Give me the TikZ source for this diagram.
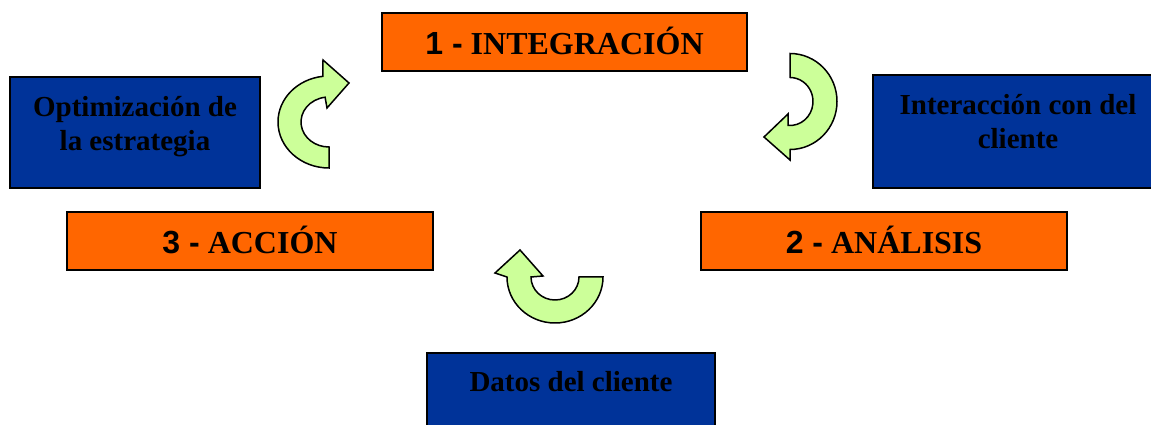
\documentclass[tikz,border=0pt]{standalone}
\usepackage{fontspec}
\setmainfont{Liberation Serif}
\newfontfamily\numfont{Liberation Sans}
\usetikzlibrary{calc}
\definecolor{boxorange}{HTML}{FF6600}
\definecolor{boxblue}{HTML}{003399}
\definecolor{arrowgreen}{HTML}{CCFF99}
\begin{document}
\begin{tikzpicture}[x=1pt,y=1pt,
  orangebox/.style={draw=black, line width=1.5pt, fill=boxorange, inner sep=0pt,
    minimum height=58pt, text height=26pt, text depth=0pt,
    font=\fontsize{32}{38}\selectfont\bfseries},
  bluebox/.style={draw=black, line width=1.5pt, fill=boxblue, inner sep=0pt},
  bluetext/.style={inner sep=0pt, align=center, font=\fontsize{29}{34}\selectfont\bfseries},
  turnarrow/.style={draw=black, line width=1.5pt, fill=arrowgreen, line join=miter}]
\useasboundingbox (0,0) rectangle (1151,425);
\clip (0,0) rectangle (1151,425);

% orange step boxes
\node[orangebox, minimum width=365pt] (integ) at (564.5,383) {{\numfont 1 -} INTEGRACIÓN};
\node[orangebox, minimum width=366pt] (accion) at (250,184) {{\numfont 3 -} ACCIÓN};
\node[orangebox, minimum width=366pt] (analisis) at (884,184) {{\numfont 2 -} ANÁLISIS};

% blue boxes
\node[bluebox, minimum width=250pt, minimum height=111pt] (optim) at (135,292.5) {};
\node[bluetext] (optimtext) at (135,298.5) {Optimización de\\la estrategia};
\node[bluebox, minimum width=290pt, minimum height=113pt] (interac) at (1018,293.5) {};
\node[bluetext] (interactext) at (1018,303.5) {Interacción con del\\cliente};
\node[bluebox, minimum width=288pt, minimum height=100pt] (datos) at (571,22) {};
\node[bluetext, anchor=base] (datostext) at (571,33) {Datos del cliente};

% curved arrows
\coordinate (ca) at (329,303);
\draw[turnarrow] ($(ca)+(270:51 and 46)$) arc[start angle=270, end angle=97, x radius=51, y radius=46]
  -- ($(ca)+(-6,62)$) -- ($(ca)+(20,39)$) -- ($(ca)+(-2,14)$)
  -- ($(ca)+(98:28 and 25)$) arc[start angle=98, end angle=270, x radius=28, y radius=25] -- cycle;

\coordinate (cb) at (790,323.5);
\draw[turnarrow] ($(cb)+(90:47 and 48)$) arc[start angle=90, end angle=-90, x radius=47, y radius=48]
  -- ($(cb)+(0,-58.5)$) -- ($(cb)+(-26,-35.5)$) -- ($(cb)+(-2,-12.5)$)
  -- ($(cb)+(-95:23 and 24)$) arc[start angle=-95, end angle=90, x radius=23, y radius=24] -- cycle;

\coordinate (cc) at (555,148);
\draw[turnarrow] ($(cc)+(0:48 and 46)$) arc[start angle=0, end angle=-180, x radius=48, y radius=46]
  -- ($(cc)+(-60,4)$) -- ($(cc)+(-35,27)$) -- ($(cc)+(-12,1)$)
  -- ($(cc)+(180:24 and 23)$) arc[start angle=180, end angle=360, x radius=24, y radius=23] -- cycle;
\end{tikzpicture}
\end{document}
